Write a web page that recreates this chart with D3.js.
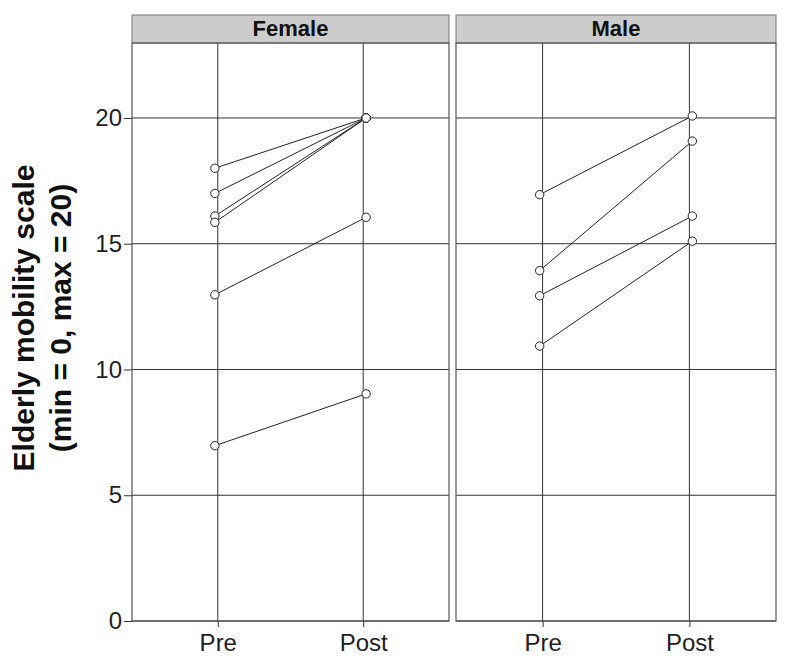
<!DOCTYPE html>
<html><head><meta charset="utf-8">
<script src="https://cdn.jsdelivr.net/npm/d3@7"></script>
<style>body{margin:0;background:#fff}svg{font-family:"Liberation Sans",Arial,sans-serif}</style>
</head><body><svg id="c" width="789" height="670"></svg>
<script>
const panels = ["Female", "Male"];
const times = ["Pre", "Post"];
const yTicks = [0, 5, 10, 15, 20];
const femalePre  = [18, 17, 16.1, 15.85, 12.97, 6.97];
const femalePost = [20, 20, 20, 20, 16.05, 9.03];
const malePre    = [16.95, 13.93, 12.93, 10.93];
const malePost   = [20.08, 19.08, 16.1, 15.1];
const preJitter  = [-0.02, -0.02, -0.02, -0.02, -0.02, -0.02];
const postJitter = [0.02, 0.02, 0.02, 0.02, 0.02, 0.02];

const svg = d3.select("#c");
const plotTop = 43, plotBottom = 621;
const y = d3.scaleLinear().domain([0, 22.98]).range([plotBottom, plotTop]);
const panelX = [[132, 449], [456, 776]];
const data = [[femalePre, femalePost], [malePre, malePost]];

panels.forEach((name, p) => {
  const [x0, x1] = panelX[p];
  const x = d3.scalePoint().domain(times).range([x0, x1]).padding(0.59);
  const g = svg.append("g");
  g.append("rect").attr("x", x0).attr("y", 15).attr("width", x1 - x0).attr("height", plotTop - 15)
    .attr("fill", "#cccccc").attr("stroke", "#777").attr("stroke-width", 1);
  g.append("text").attr("x", (x0 + x1) / 2).attr("y", 36).attr("text-anchor", "middle")
    .attr("font-weight", "bold").attr("font-size", 22).attr("fill", "#111").text(name);
  yTicks.forEach(t => {
    g.append("line").attr("x1", x0).attr("x2", x1).attr("y1", y(t)).attr("y2", y(t))
      .attr("stroke", "#333").attr("stroke-width", 1);
  });
  times.forEach(t => {
    g.append("line").attr("x1", x(t)).attr("x2", x(t)).attr("y1", plotTop).attr("y2", plotBottom)
      .attr("stroke", "#333").attr("stroke-width", 1);
  });
  g.append("rect").attr("x", x0).attr("y", plotTop).attr("width", x1 - x0).attr("height", plotBottom - plotTop)
    .attr("fill", "none").attr("stroke", "#555").attr("stroke-width", 1.2);
  const xa = g.append("g").attr("transform", `translate(0,${plotBottom})`)
    .call(d3.axisBottom(x).tickSize(6).tickPadding(7));
  xa.select(".domain").remove();
  xa.selectAll("line").attr("stroke", "#333");
  xa.selectAll("text").attr("font-size", 24).attr("fill", "#222").attr("font-family", "Liberation Sans, Arial, sans-serif");
  const step = x("Post") - x("Pre");
  const [pre, post] = data[p];
  pre.forEach((v, i) => {
    const xa1 = x("Pre") + preJitter[i] * step, xb = x("Post") + postJitter[i] * step;
    g.append("line").attr("x1", xa1).attr("y1", y(v)).attr("x2", xb).attr("y2", y(post[i]))
      .attr("stroke", "#222").attr("stroke-width", 1);
  });
  pre.forEach((v, i) => {
    g.append("circle").attr("cx", x("Pre") + preJitter[i] * step).attr("cy", y(v)).attr("r", 4.2)
      .attr("fill", "#fff").attr("stroke", "#222").attr("stroke-width", 1);
    g.append("circle").attr("cx", x("Post") + postJitter[i] * step).attr("cy", y(post[i])).attr("r", 4.2)
      .attr("fill", "#fff").attr("stroke", "#222").attr("stroke-width", 1);
  });
});

const ya = svg.append("g").attr("transform", `translate(132,0)`)
  .call(d3.axisLeft(y).tickValues(yTicks).tickSize(8).tickPadding(2));
ya.select(".domain").remove();
ya.selectAll("line").attr("stroke", "#333");
ya.selectAll("text").attr("font-size", 24).attr("fill", "#222").attr("font-family", "Liberation Sans, Arial, sans-serif");

const yt = svg.append("text").attr("transform", "translate(34,318) rotate(-90)")
  .attr("text-anchor", "middle").attr("font-weight", "bold").attr("font-size", 30).attr("fill", "#111");
yt.append("tspan").attr("x", 0).attr("dy", 0).text("Elderly mobility scale");
yt.append("tspan").attr("x", 0).attr("dy", 37).text("(min = 0, max = 20)");
</script></body></html>
